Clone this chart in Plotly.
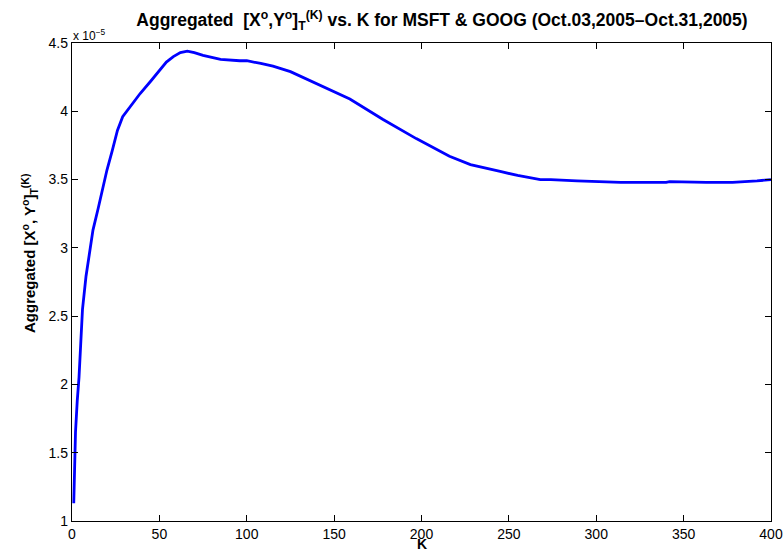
import plotly.graph_objects as go

K = [1, 2, 3, 4, 5, 6, 8, 10, 12, 15, 17, 20, 23, 26, 29, 33, 39, 45, 50, 54, 58, 62,
     66, 70, 75, 85, 96, 100, 108, 115, 125, 140, 159, 178, 197, 216, 228, 245, 255,
     268, 274, 289, 300, 314, 340, 342, 363, 378, 392, 400]
agg_e5 = [1.13, 1.65, 1.88, 2.05, 2.30, 2.55, 2.79, 2.98, 3.13, 3.29, 3.40, 3.57, 3.71,
          3.86, 3.96, 4.03, 4.13, 4.22, 4.30, 4.36, 4.40, 4.43, 4.44, 4.43, 4.41, 4.38,
          4.37, 4.37, 4.35, 4.33, 4.29, 4.20, 4.09, 3.94, 3.80, 3.67, 3.61, 3.56, 3.53,
          3.50, 3.50, 3.49, 3.485, 3.48, 3.48, 3.485, 3.48, 3.48, 3.49, 3.50]

x_ticks = [0, 50, 100, 150, 200, 250, 300, 350, 400]
y_ticks = [1, 1.5, 2, 2.5, 3, 3.5, 4, 4.5]
y_ticktext = ["1", "1.5", "2", "2.5", "3", "3.5", "4", "4.5"]

FONT = "Liberation Sans, Arial, Helvetica, sans-serif"

fig = go.Figure()
fig.add_trace(go.Scatter(x=K, y=agg_e5, mode="lines",
                         line=dict(color="rgb(0,0,255)", width=2.8),
                         showlegend=False))

axis_common = dict(showgrid=False, zeroline=False, showline=True, linecolor="black",
                   linewidth=1.3, mirror="ticks", ticks="inside", ticklen=6,
                   tickcolor="black", tickwidth=1, automargin=False,
                   tickfont=dict(family=FONT, size=14, color="black"))

fig.update_xaxes(range=[0, 400], tickvals=x_ticks, **axis_common)
fig.update_yaxes(range=[1, 4.5], tickvals=y_ticks, ticktext=y_ticktext, **axis_common)

fig.update_layout(
    width=783, height=553,
    margin=dict(l=72, r=12, t=43, b=32),
    paper_bgcolor="white", plot_bgcolor="white",
    title=dict(text="<b>Aggregated  [X<sup>o</sup>,Y<sup>o</sup>]<sub>T</sub><sup>(K)</sup> vs. K for MSFT &amp; GOOG (Oct.03,2005\u2013Oct.31,2005)</b>",
               x=442 / 783, xanchor="center", y=1 - 20 / 553, yanchor="middle",
               font=dict(family=FONT, size=17.5, color="black")),
    annotations=[
        dict(text="x 10<sup>\u22125</sup>", xref="paper", yref="paper",
             x=0, y=1, xanchor="left", yanchor="bottom", showarrow=False,
             font=dict(family=FONT, size=12, color="black"), xshift=-1, yshift=-2),
        dict(text="<b>Aggregated [X<sup>o</sup>, Y<sup>o</sup>]<sub>T</sub><sup>(K)</sup></b>",
             xref="paper", yref="paper", x=0, y=0.5, xanchor="center", yanchor="middle",
             xshift=-43, yshift=28, textangle=-90, showarrow=False,
             font=dict(family=FONT, size=15, color="black")),
        dict(text="<b>K</b>", xref="paper", yref="paper", x=0.5, y=0,
             xanchor="center", yanchor="bottom", yshift=-33, showarrow=False,
             font=dict(family=FONT, size=14, color="black")),
    ],
)

fig.write_html("out.html", config={"displayModeBar": False},
               post_script="document.body.style.margin='0px';document.body.style.overflow='hidden';")
